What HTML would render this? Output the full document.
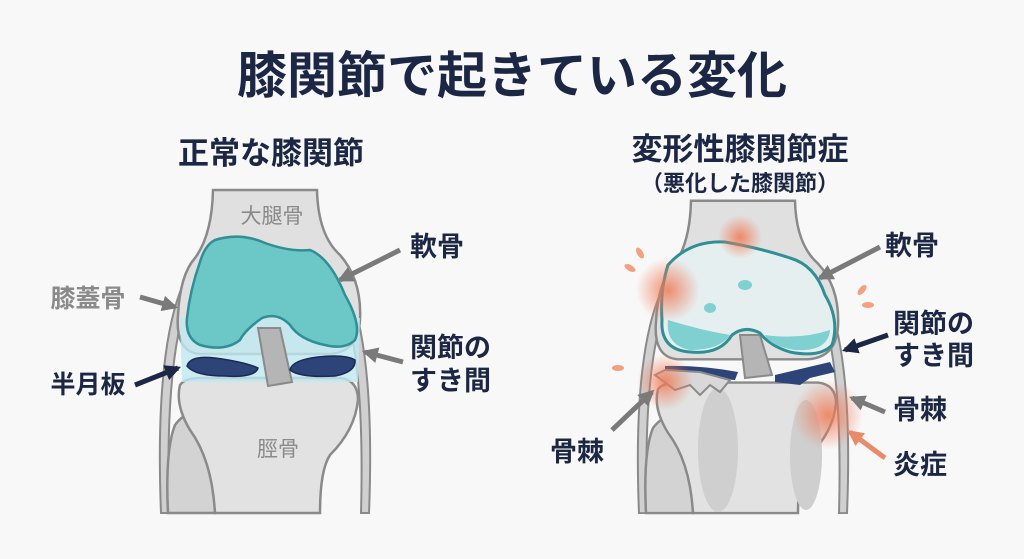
<!DOCTYPE html>
<html><head><meta charset="utf-8"><style>
body{margin:0;background:#f8f8f8;}
svg{display:block}
text{font-family:"Liberation Sans","Noto Sans CJK JP",sans-serif;font-weight:bold;}
</style></head><body>
<svg width="1024" height="559" viewBox="0 0 1024 559" xmlns="http://www.w3.org/2000/svg">
<defs>
<marker id="ag" viewBox="0 0 10 10" refX="8" refY="5" markerWidth="3.2" markerHeight="3.2" orient="auto"><path d="M0,0L10,5L0,10z" fill="#7a7a7a"/></marker>
<marker id="an" viewBox="0 0 10 10" refX="8" refY="5" markerWidth="3.2" markerHeight="3.2" orient="auto"><path d="M0,0L10,5L0,10z" fill="#1b2744"/></marker>
<marker id="ao" viewBox="0 0 10 10" refX="8" refY="5" markerWidth="3.2" markerHeight="3.2" orient="auto"><path d="M0,0L10,5L0,10z" fill="#e98a6a"/></marker>
<radialGradient id="inf"><stop offset="0" stop-color="#f07a55" stop-opacity="0.85"/><stop offset="1" stop-color="#f07a55" stop-opacity="0"/></radialGradient>
<g id="bones">
<path d="M-95,323 L-97,513" stroke="none"/>
<path d="M-85,292 Q-110,360 -104,513 L-96,513 Q-100,360 -77,298Z" fill="#d0d0d0" stroke="#8a8a8a" stroke-width="2"/>
<path d="M85,292 Q110,360 104,513 L96,513 Q100,360 77,298Z" fill="#d0d0d0" stroke="#8a8a8a" stroke-width="2"/>
<path d="M-52,190 L52,190 Q53,235 75,255 Q97,280 95,320 Q93,352 65,354 L-65,354 Q-90,352 -87,315 Q-85,275 -70,258 Q-53,235 -52,190 Z" fill="#e0e0e0" stroke="#8a8a8a" stroke-width="2.5"/>
<path d="M-97,513 Q-100,450 -90,425 Q-75,405 -60,420 Q-50,440 -50,513 Z" fill="#d3d3d3" stroke="#8a8a8a" stroke-width="2.5"/>
<path d="M-50,513 Q-53,460 -75,430 Q-90,405 -85,385 Q-80,378 -65,378 L75,378 Q93,380 93,400 Q90,430 65,455 Q55,470 55,513 Z" fill="#e2e2e2" stroke="#8a8a8a" stroke-width="2.5"/>
</g>
</defs>
<rect width="1024" height="559" fill="#f8f8f8"/>
<text x="512" y="93" font-size="50" fill="#1b2744" text-anchor="middle">膝関節で起きている変化</text>
<text x="271" y="164" font-size="31" fill="#1b2744" text-anchor="middle">正常な膝関節</text>
<text x="740" y="160" font-size="31" fill="#1b2744" text-anchor="middle">変形性膝関節症</text>
<text x="740" y="191" font-size="22" fill="#1b2744" text-anchor="middle">（悪化した膝関節）</text>

<!-- LEFT KNEE -->
<use href="#bones" transform="translate(265,0)"/>
<path d="M180,318 L360,318 L358,382 L182,382 Z" fill="#bfe9f0" opacity="0.8"/>
<path d="M258,328 L280,328 L292,382 L268,386 Z" fill="#b5b5b5" stroke="#8a8a8a" stroke-width="2"/>
<path d="M215,240 Q240,232 265,243 Q290,252 310,250 Q330,258 345,295 Q362,325 355,340 Q345,350 325,345 Q300,340 290,325 Q278,312 262,318 Q245,330 240,340 Q225,352 200,345 Q185,338 187,318 Q190,290 200,262 Q205,245 215,240 Z" fill="#6cc7c7" stroke="#2f8f95" stroke-width="2.5"/>
<path d="M187,366 Q190,355 215,358 Q245,362 258,368 Q255,378 225,376 Q195,376 187,366 Z" fill="#2d4478" stroke="#1b2a55" stroke-width="1.5"/>
<path d="M290,370 Q292,360 318,357 Q345,354 355,360 Q356,372 335,376 Q300,378 290,370 Z" fill="#2d4478" stroke="#1b2a55" stroke-width="1.5"/>
<text x="272" y="223" font-size="21" fill="#8a8a8a" text-anchor="middle" style="font-weight:normal">大腿骨</text>
<text x="278" y="456" font-size="21" fill="#8a8a8a" text-anchor="middle" style="font-weight:normal">脛骨</text>
<text x="88" y="307" font-size="25" fill="#8a8a8a" text-anchor="middle">膝蓋骨</text>
<text x="88" y="393" font-size="25" fill="#1b2744" text-anchor="middle">半月板</text>
<text x="410" y="256" font-size="27" fill="#1b2744">軟骨</text>
<text x="410" y="357" font-size="27" fill="#1b2744">関節の</text>
<text x="410" y="390" font-size="27" fill="#1b2744">すき間</text>
<line x1="140" y1="297" x2="175" y2="307" stroke="#7a7a7a" stroke-width="5" marker-end="url(#ag)"/>
<line x1="135" y1="385" x2="178" y2="368" stroke="#1b2744" stroke-width="5" marker-end="url(#an)"/>
<line x1="400" y1="250" x2="340" y2="280" stroke="#7a7a7a" stroke-width="5" marker-end="url(#ag)"/>
<line x1="403" y1="362" x2="365" y2="352" stroke="#7a7a7a" stroke-width="5" marker-end="url(#ag)"/>

<!-- RIGHT KNEE -->
<g transform="translate(743,17)"><g transform="translate(0,-17)">
<use href="#bones" transform="translate(0,17) scale(1,0.967) translate(0,0)"/>
</g></g>
<ellipse cx="718" cy="450" rx="20" ry="62" fill="#cfcfcf"/>
<ellipse cx="806" cy="455" rx="16" ry="55" fill="#cfcfcf"/>
<path d="M740,335 L760,335 L772,375 L745,378 Z" fill="#b5b5b5" stroke="#8a8a8a" stroke-width="2"/>
<path d="M668,265 Q690,240 725,242 Q760,248 790,258 Q815,265 825,295 Q840,320 832,345 Q820,358 790,352 Q770,346 760,333 Q745,325 732,335 Q720,355 690,352 Q660,350 662,320 Q660,290 668,265 Z" fill="#e6eff0" stroke="#2f8f95" stroke-width="3"/>
<path d="M668,320 Q700,330 730,335 Q720,350 690,350 Q665,345 668,320Z M765,335 Q800,340 830,330 Q828,352 795,350 Q770,346 765,335Z" fill="#7fd0d0"/>
<ellipse cx="745" cy="285" rx="7" ry="5" fill="#7fd0d0"/>
<ellipse cx="710" cy="308" rx="6" ry="5" fill="#7fd0d0"/>
<path d="M665,366 Q700,365 738,372 L735,380 Q700,378 665,375 Z" fill="#2d4478"/>
<path d="M775,375 L830,362 L835,372 L810,378 L800,385 L775,382 Z" fill="#2d4478"/>
<path d="M655,375 L665,370 L700,372 L730,380 L720,392 L710,385 L700,395 L690,385 L675,390 Z" fill="#d8d8d8" stroke="#8a8a8a" stroke-width="2"/>
<circle cx="740" cy="237" r="22" fill="url(#inf)"/>
<circle cx="668" cy="290" r="32" fill="url(#inf)"/>
<circle cx="665" cy="382" r="28" fill="url(#inf)"/>
<circle cx="828" cy="415" r="35" fill="url(#inf)"/>
<g fill="#f3a07e"><ellipse cx="630" cy="268" rx="6" ry="3" transform="rotate(30 630 268)"/><ellipse cx="640" cy="253" rx="6" ry="3" transform="rotate(60 640 253)"/><ellipse cx="862" cy="290" rx="6" ry="3" transform="rotate(-50 862 290)"/><ellipse cx="868" cy="305" rx="6" ry="3"/><ellipse cx="618" cy="368" rx="6" ry="3"/></g>
<text x="885" y="255" font-size="27" fill="#1b2744">軟骨</text>
<text x="893" y="333" font-size="27" fill="#1b2744">関節の</text>
<text x="893" y="365" font-size="27" fill="#1b2744">すき間</text>
<text x="893" y="419" font-size="27" fill="#1b2744">骨棘</text>
<text x="893" y="474" font-size="27" fill="#1b2744">炎症</text>
<text x="550" y="461" font-size="27" fill="#1b2744">骨棘</text>
<line x1="880" y1="247" x2="820" y2="278" stroke="#7a7a7a" stroke-width="5" marker-end="url(#ag)"/>
<line x1="888" y1="335" x2="845" y2="350" stroke="#1b2744" stroke-width="5" marker-end="url(#an)"/>
<line x1="885" y1="412" x2="852" y2="398" stroke="#7a7a7a" stroke-width="5" marker-end="url(#ag)"/>
<line x1="885" y1="458" x2="850" y2="432" stroke="#e98a6a" stroke-width="5" marker-end="url(#ao)"/>
<line x1="612" y1="430" x2="652" y2="392" stroke="#7a7a7a" stroke-width="5" marker-end="url(#ag)"/>
</svg>
</body></html>
